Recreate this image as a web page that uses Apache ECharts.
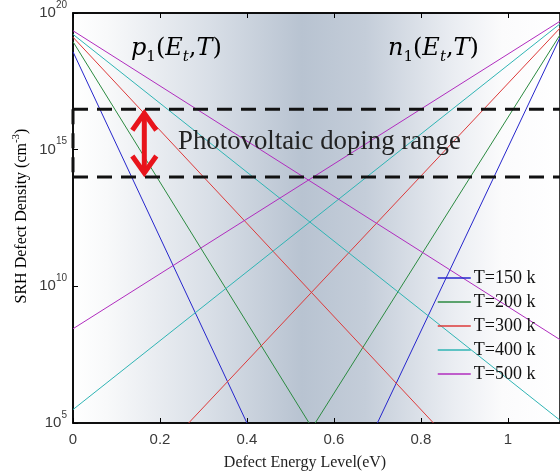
<!DOCTYPE html>
<html>
<head>
<meta charset="utf-8">
<script src="https://cdn.jsdelivr.net/npm/echarts@6/dist/echarts.min.js"></script>
<style>
  html, body { margin: 0; padding: 0; background: #ffffff; }
  #chart { width: 560px; height: 475px; }
</style>
</head>
<body>
<div id="chart"></div>
<script>
// Defect energy axis (eV above the valence band edge)
const energyMin = 0;
const energyMax = 1.12;
const energyTicks = [0, 0.2, 0.4, 0.6, 0.8, 1];
// Density axis decades (cm^-3)
const densityMin = 1e5;
const densityMax = 1e20;
const densityTickStep = 5;

const temperatureLabels = ['T=150 k', 'T=200 k', 'T=300 k', 'T=400 k', 'T=500 k'];
const lineColors = ['#2626cc', '#2b8a40', '#dd3a3a', '#2fb4b4', '#b02cbe'];

// p1(Et,T): hole density branch, end points [Et, density]
const p1Lines = [
  [[0, 3.8e18], [0.40, 1e5]],
  [[0, 8.9e18], [0.543, 1e5]],
  [[0, 1.3e19], [0.829, 1e5]],
  [[0, 1.66e19], [1.12, 1.26e5]],
  [[0, 2.24e19], [1.12, 1.12e8]]
];
// n1(Et,T): electron density branch, end points [Et, density]
const n1Lines = [
  [[0.70, 1e5], [1.12, 1.26e19]],
  [[0.557, 1e5], [1.12, 1.58e19]],
  [[0.266, 1e5], [1.12, 2.8e19]],
  [[0, 3.1e5], [1.12, 4.0e19]],
  [[0, 2.8e8], [1.12, 5.0e19]]
];

// Photovoltaic doping window (cm^-3)
const dopingRange = [1e14, 3e16];
const arrowEnergy = 0.164;

const chart = echarts.init(document.getElementById('chart'), null, { renderer: 'canvas' });

const series = [];
temperatureLabels.forEach((name, i) => {
  const common = {
    type: 'line',
    name: name,
    symbol: 'none',
    silent: true,
    lineStyle: { color: lineColors[i], width: 1 },
    itemStyle: { color: lineColors[i] },
    z: 3
  };
  series.push(Object.assign({}, common, { data: p1Lines[i] }));
  series.push(Object.assign({}, common, { data: n1Lines[i] }));
});

const dashStyle = { color: '#111111', width: 3, type: [15, 9] };
series.push({
  type: 'line', name: 'rangeTop', symbol: 'none', silent: true, z: 4,
  lineStyle: dashStyle,
  data: [[energyMin, dopingRange[1]], [energyMax, dopingRange[1]]]
});
series.push({
  type: 'line', name: 'rangeBottom', symbol: 'none', silent: true, z: 4,
  lineStyle: dashStyle,
  data: [[energyMin, dopingRange[0]], [energyMax, dopingRange[0]]]
});
series.push({
  type: 'line', name: 'rangeLeft', symbol: 'none', silent: true, z: 4, clip: false,
  lineStyle: dashStyle,
  data: [[energyMin, dopingRange[1]], [energyMin, dopingRange[0]]]
});

// Red double-headed arrow spanning the doping window
series.push({
  type: 'custom',
  name: 'rangeArrow',
  silent: true,
  z: 6,
  encode: { x: 0, y: [1, 2] },
  data: [[arrowEnergy, dopingRange[1], dopingRange[0]]],
  renderItem: function (params, api) {
    const top = api.coord([api.value(0), api.value(1)]);
    const bot = api.coord([api.value(0), api.value(2)]);
    const x = top[0];
    const t = top[1] + 2;
    const b = bot[1] - 2;
    const stroke = { stroke: '#e8141b', lineWidth: 5, fill: null, lineCap: 'butt', lineJoin: 'miter' };
    return {
      type: 'group',
      children: [
        { type: 'line', shape: { x1: x, y1: t + 2, x2: x, y2: b - 2 }, style: stroke },
        { type: 'polyline', shape: { points: [[x - 12, t + 19], [x, t + 2], [x + 12, t + 19]] }, style: stroke },
        { type: 'polyline', shape: { points: [[x - 12, b - 19], [x, b - 2], [x + 12, b - 19]] }, style: stroke }
      ]
    };
  }
});

const tickFont = { fontFamily: 'Liberation Sans', color: '#3a3a3a' };

const labelRich = {
  i: { fontFamily: 'DejaVu Serif', fontStyle: 'italic', fontSize: 24, color: '#222222', lineHeight: 32 },
  n: { fontFamily: 'DejaVu Serif', fontSize: 24, color: '#222222', lineHeight: 32 },
  u: { fontFamily: 'DejaVu Serif', fontSize: 15, color: '#222222', lineHeight: 15, verticalAlign: 'bottom' },
  t: { fontFamily: 'DejaVu Serif', fontStyle: 'italic', fontSize: 15, color: '#222222', lineHeight: 15, verticalAlign: 'bottom' }
};

const option = {
  animation: false,
  backgroundColor: '#ffffff',
  grid: {
    left: 73, top: 13, right: -6, bottom: 52,
    show: true,
    borderColor: '#000000',
    borderWidth: 1.5,
    backgroundColor: {
      type: 'linear', x: 0, y: 0, x2: 1, y2: 0,
      colorStops: [
        { offset: 0.0, color: '#ffffff' },
        { offset: 0.07, color: '#f8f9fa' },
        { offset: 0.28, color: '#d9dfe7' },
        { offset: 0.47, color: '#b8c3d1' },
        { offset: 0.6, color: '#c4cdd9' },
        { offset: 0.78, color: '#eaedf2' },
        { offset: 0.88, color: '#fbfbfc' },
        { offset: 1.0, color: '#ffffff' }
      ]
    }
  },
  legend: {
    orient: 'vertical',
    left: 437,
    top: 269,
    itemWidth: 33,
    itemHeight: 12,
    itemGap: 6,
    padding: 0,
    selectedMode: false,
    data: temperatureLabels,
    itemStyle: { opacity: 0 },
    lineStyle: { width: 1.5 },
    textStyle: { fontFamily: 'Liberation Serif', fontSize: 18, color: '#111111', lineHeight: 18, padding: [0, 0, 0, -2] }
  },
  xAxis: [{
    type: 'value',
    min: energyMin,
    max: energyMax,
    interval: 0.2,
    axisLine: { show: true, lineStyle: { color: '#000000', width: 1.5 } },
    axisTick: { show: true, inside: true, length: 5, lineStyle: { color: '#000000', width: 1 } },
    splitLine: { show: false },
    axisLabel: Object.assign({
      fontSize: 15,
      margin: 9,
      showMaxLabel: false,
      formatter: function (v) {
        const r = Math.round(v * 10) / 10;
        return energyTicks.some(t => Math.abs(t - v) < 1e-6) ? String(r) : '';
      }
    }, tickFont)
  }, {
    type: 'value',
    position: 'top',
    min: energyMin,
    max: energyMax,
    interval: 0.2,
    axisLine: { show: true, lineStyle: { color: '#000000', width: 1.5 } },
    axisTick: { show: true, inside: true, length: 5, lineStyle: { color: '#000000', width: 1 } },
    splitLine: { show: false },
    axisLabel: { show: false }
  }],
  yAxis: {
    type: 'log',
    logBase: 10,
    min: densityMin,
    max: densityMax,
    interval: densityTickStep,
    axisLine: { show: true, lineStyle: { color: '#000000', width: 1.5 } },
    axisTick: { show: true, inside: true, length: 5, lineStyle: { color: '#000000', width: 1 } },
    minorTick: { show: false },
    splitLine: { show: false },
    axisLabel: {
      margin: 6,
      formatter: function (v) {
        return '{b|10}{s|' + Math.round(Math.log10(v)) + '}';
      },
      rich: {
        b: { fontFamily: 'Liberation Sans', fontSize: 15, color: '#3a3a3a', lineHeight: 26 },
        s: { fontFamily: 'Liberation Sans', fontSize: 10, color: '#3a3a3a', lineHeight: 10, verticalAlign: 'top' }
      }
    }
  },
  graphic: [
    {
      type: 'text', left: 131, top: 37, z: 10, silent: true,
      style: { text: '{i|p}{u|1}{n|(}{i|E}{t|t}{n|,}{i|T}{n|)}', rich: labelRich }
    },
    {
      type: 'text', left: 388, top: 37, z: 10, silent: true,
      style: { text: '{i|n}{u|1}{n|(}{i|E}{t|t}{n|,}{i|T}{n|)}', rich: labelRich }
    },
    {
      type: 'text', left: 178, top: 128, z: 10, silent: true,
      style: {
        text: 'Photovoltaic doping range',
        fontFamily: 'Liberation Serif', fontSize: 26.8, fill: '#222222'
      }
    },
    {
      type: 'text', x: 305, y: 463, z: 10, silent: true,
      style: {
        text: 'Defect Energy Level(eV)',
        fontFamily: 'Liberation Serif', fontSize: 16, fill: '#222222',
        align: 'center', verticalAlign: 'middle'
      }
    },
    {
      type: 'text', x: 22, y: 216, rotation: Math.PI / 2, z: 10, silent: true,
      style: {
        text: '{m|SRH Defect Density (cm}{s|-3}{m|)}',
        align: 'center', verticalAlign: 'middle',
        rich: {
          m: { fontFamily: 'Liberation Serif', fontSize: 16, color: '#222222', lineHeight: 22 },
          s: { fontFamily: 'Liberation Serif', fontSize: 11, color: '#222222', lineHeight: 11, verticalAlign: 'top' }
        }
      }
    }
  ],
  series: series
};

chart.setOption(option);
</script>
</body>
</html>
